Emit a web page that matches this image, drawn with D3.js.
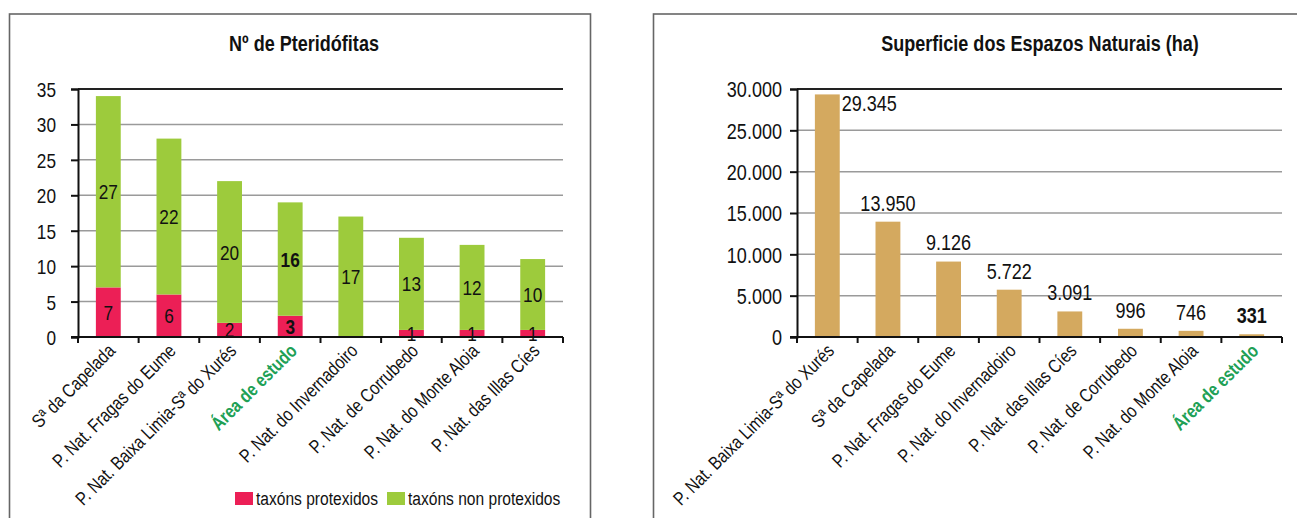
<!DOCTYPE html>
<html>
<head>
<meta charset="utf-8">
<script src="https://cdn.jsdelivr.net/npm/d3@7"></script>
<style>
  html, body { margin: 0; padding: 0; background: #fff; }
  svg { display: block; }
  text { font-family: "Liberation Sans", Arial, sans-serif; fill: #111; }
</style>
</head>
<body>
<svg id="chart" width="1297" height="518"></svg>
<script>
// ---------- DATA ----------
const pteridoCategories = [
  "Sª da Capelada",
  "P. Nat. Fragas do Eume",
  "P. Nat. Baixa Limia-Sª do Xurés",
  "Área de estudo",
  "P. Nat. do Invernadoiro",
  "P. Nat. de Corrubedo",
  "P. Nat. do Monte Aloia",
  "P. Nat. das Illas Cíes"
];
const taxonsProtexidos = [7, 6, 2, 3, 0, 1, 1, 1];
const taxonsNonProtexidos = [27, 22, 20, 16, 17, 13, 12, 10];
const pteridoTicks = [0, 5, 10, 15, 20, 25, 30, 35];
const pteridoSeriesNames = ["taxóns protexidos", "taxóns non protexidos"];

const superficieCategories = [
  "P. Nat. Baixa Limia-Sª do Xurés",
  "Sª da Capelada",
  "P. Nat. Fragas do Eume",
  "P. Nat. do Invernadoiro",
  "P. Nat. das Illas Cíes",
  "P. Nat. de Corrubedo",
  "P. Nat. do Monte Aloia",
  "Área de estudo"
];
const superficieHa = [29345, 13950, 9126, 5722, 3091, 996, 746, 331];
const superficieTicks = [0, 5000, 10000, 15000, 20000, 25000, 30000];

const titleLeft = "Nº de Pteridófitas";
const titleRight = "Superficie dos Espazos Naturais (ha)";
const highlightCategory = "Área de estudo";

// ---------- STYLE ----------
const COL_RED = "#ec1f56";
const COL_GREEN = "#9dcb3c";
const COL_TAN = "#d4a95f";
const COL_HL = "#20a055";
const COL_GRID = "#9a9a9a";
const SX = 0.82; // condensed look of the original font

const svg = d3.select("#chart");
const fmt = d3.formatLocale({ decimal: ",", thousands: ".", grouping: [3], currency: ["", "€"] }).format(",d");

const tf = (x, y, rot) => `translate(${x},${y})` + (rot ? ` rotate(${rot})` : "") + ` scale(${SX},1)`;

// panel boxes
svg.append("rect").attr("x", 9.5).attr("y", 14).attr("width", 581).attr("height", 540)
  .attr("fill", "none").attr("stroke", "#666").attr("stroke-width", 1.6);
svg.append("rect").attr("x", 653.5).attr("y", 14).attr("width", 700).attr("height", 540)
  .attr("fill", "none").attr("stroke", "#666").attr("stroke-width", 1.6);

function drawFrame(g, x, y, ticks, tickFmt, tickSize, tickOffset) {
  const [x0, x1] = x.range();
  const yt = y.range()[1];
  g.selectAll(".grid").data(ticks.slice(1, -1)).join("line")
    .attr("x1", x0).attr("x2", x1)
    .attr("y1", d => y(d)).attr("y2", d => y(d))
    .attr("stroke", COL_GRID).attr("stroke-width", 1.5);
  g.append("line").attr("x1", x0).attr("x2", x1).attr("y1", yt).attr("y2", yt)
    .attr("stroke", "#222").attr("stroke-width", 2);
  const yAxis = d3.axisLeft(y).tickValues(ticks).tickFormat(tickFmt).tickSize(7).tickPadding(5);
  const ya = g.append("g").attr("transform", `translate(${x0},0)`).call(yAxis);
  ya.select(".domain").attr("stroke", "#111").attr("stroke-width", 2);
  ya.selectAll(".tick line").attr("stroke", "#111").attr("stroke-width", 2);
  ya.selectAll(".tick text")
    .attr("x", null).attr("dy", "0.36em")
    .attr("transform", tf(-tickOffset, 0))
    .attr("font-size", tickSize).attr("fill", "#111")
    .style("font-family", '"Liberation Sans", Arial, sans-serif');
}

function drawXAxis(g, x, y, cats) {
  const [x0, x1] = x.range();
  const yb = y.range()[0];
  const step = x.step();
  const bounds = d3.range(cats.length + 1).map(i => x0 + i * step);
  g.selectAll(".xtick").data(bounds).join("line")
    .attr("x1", d => d).attr("x2", d => d).attr("y1", yb).attr("y2", yb + 6)
    .attr("stroke", "#111").attr("stroke-width", 2);
  g.append("line").attr("x1", x0 - 7).attr("x2", x1).attr("y1", yb).attr("y2", yb)
    .attr("stroke", "#111").attr("stroke-width", 2.2);
  g.selectAll(".xlab").data(cats).join("text")
    .attr("transform", d => tf(x(d) + x.bandwidth() / 2 + 8, yb + 15, -45))
    .attr("text-anchor", "end")
    .attr("font-size", 19)
    .attr("font-weight", d => d === highlightCategory ? "bold" : "normal")
    .style("fill", d => d === highlightCategory ? COL_HL : "#111")
    .text(d => d);
}

// ---------- LEFT CHART ----------
{
  const g = svg.append("g");
  const x = d3.scaleBand().domain(pteridoCategories).range([78, 563]).paddingInner(0.59).paddingOuter(0.295);
  const y = d3.scaleLinear().domain([0, 35]).range([337, 89]);
  drawFrame(g, x, y, pteridoTicks, d3.format("d"), 21, 22);

  const rows = pteridoCategories.map((c, i) => ({ c, p: taxonsProtexidos[i], n: taxonsNonProtexidos[i] }));
  const stacked = d3.stack().keys(["p", "n"])(rows);
  const colors = [COL_RED, COL_GREEN];
  stacked.forEach((layer, li) => {
    g.selectAll(".bar" + li).data(layer).join("rect")
      .attr("x", d => x(d.data.c))
      .attr("width", x.bandwidth())
      .attr("y", d => y(d[1]))
      .attr("height", d => y(d[0]) - y(d[1]))
      .attr("fill", colors[li]);
  });
  stacked.forEach((layer) => {
    g.selectAll(".lab" + layer.key).data(layer.filter(d => d[1] - d[0] > 0)).join("text")
      .attr("transform", d => tf(x(d.data.c) + x.bandwidth() / 2, y((d[0] + d[1]) / 2)))
      .attr("dy", "0.36em")
      .attr("text-anchor", "middle")
      .attr("font-size", 21)
      .attr("font-weight", d => d.data.c === highlightCategory ? "bold" : "normal")
      .text(d => d[1] - d[0]);
  });
  drawXAxis(g, x, y, pteridoCategories);

  g.append("text").attr("transform", tf(304, 51)).attr("text-anchor", "middle")
    .attr("font-size", 22).attr("font-weight", "bold").text(titleLeft);

  const legX = [235, 387];
  pteridoSeriesNames.forEach((name, i) => {
    g.append("rect").attr("x", legX[i]).attr("y", 492).attr("width", 18).attr("height", 13).attr("fill", colors[i]);
    g.append("text").attr("transform", tf(legX[i] + 21, 505)).attr("font-size", 19).text(name);
  });
}

// ---------- RIGHT CHART ----------
{
  const g = svg.append("g");
  const x = d3.scaleBand().domain(superficieCategories).range([797, 1282]).paddingInner(0.59).paddingOuter(0.295);
  const y = d3.scaleLinear().domain([0, 30000]).range([337, 89]);
  drawFrame(g, x, y, superficieTicks, fmt, 22, 15);

  const rows = superficieCategories.map((c, i) => ({ c, v: superficieHa[i] }));
  g.selectAll(".bar").data(rows).join("rect")
    .attr("x", d => x(d.c)).attr("width", x.bandwidth())
    .attr("y", d => y(d.v)).attr("height", d => y(0) - y(d.v))
    .attr("fill", COL_TAN);

  g.selectAll(".vlab").data(rows).join("text")
    .each(function (d) {
      const top = y(d.v);
      const sel = d3.select(this);
      if (top - 19 < y.range()[1] + 8) {
        sel.attr("transform", tf(x(d.c) + x.bandwidth() + 2, top + 9)).attr("text-anchor", "start");
      } else {
        sel.attr("transform", tf(x(d.c) + x.bandwidth() / 2, top - 19)).attr("text-anchor", "middle");
      }
    })
    .attr("dy", "0.36em")
    .attr("font-size", 22)
    .attr("font-weight", d => d.c === highlightCategory ? "bold" : "normal")
    .text(d => fmt(d.v));

  drawXAxis(g, x, y, superficieCategories);

  g.append("text").attr("transform", tf(1040, 51)).attr("text-anchor", "middle")
    .attr("font-size", 22).attr("font-weight", "bold").text(titleRight);
}
</script>
</body>
</html>
